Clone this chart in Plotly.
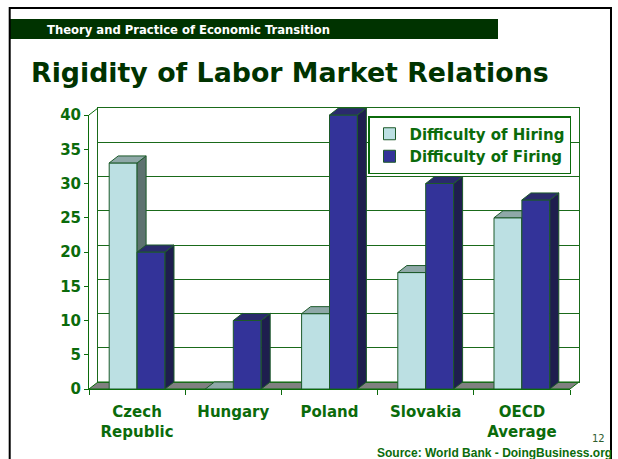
import plotly.graph_objects as go

# ---------------- data ----------------
categories = ["Czech<br>Republic", "Hungary", "Poland", "Slovakia", "OECD<br>Average"]
hiring = [33, 0, 11, 17, 25]
firing = [20, 10, 40, 30, 27.6]
series_names = ["Difficulty of Hiring", "Difficulty of Firing"]
y_ticks = [0, 5, 10, 15, 20, 25, 30, 35, 40]

# ---------------- layout constants (pixels) ----------------
W, H = 618, 459
FX0, FX1 = 89, 570      # front x-axis extent
FY0, FY1 = 389, 115     # front y=0 and y=40
DX, DY = 9, 7           # 3-D depth offset
YMAX = 40
BARGAP = 0.42

GREEN = "#0B6B0B"
GRID = "#1A6A1A"
DARK = "#003300"
FONT = "DejaVu Sans"

HIRE_FRONT, HIRE_SIDE, HIRE_TOP = "#BCE0E3", "#5E7270", "#8FA8A8"
FIRE_FRONT, FIRE_SIDE, FIRE_TOP = "#333399", "#1E1E4E", "#2A2A6C"


def fx(p):
    return p / W


def fy(p):
    return 1 - p / H


n = len(categories)
unit_x = (FX1 - FX0) / n
unit_y = (FY0 - FY1) / YMAX
dxu = DX / unit_x
dyu = DY / unit_y
bw = (1 - BARGAP) / 2
xs = list(range(n))

fig = go.Figure()

# back wall (gridlines) on x/y
fig.add_trace(go.Scatter(x=[0], y=[0], mode="markers", marker=dict(opacity=0),
                         showlegend=False, hoverinfo="skip", xaxis="x", yaxis="y"))
# front axes on x2/y2
fig.add_trace(go.Scatter(x=[0], y=[0], mode="markers", marker=dict(opacity=0),
                         showlegend=False, hoverinfo="skip", xaxis="x2", yaxis="y2"))


def faces(vals, left_off):
    sx, sy, tx, ty = [], [], [], []
    for i, v in zip(xs, vals):
        xl = i + left_off
        xr = xl + bw
        sx += [xr, xr + dxu, xr + dxu, xr, xr, None]
        sy += [0, dyu, v + dyu, v, 0, None]
        tx += [xl, xl + dxu, xr + dxu, xr, xl, None]
        ty += [v, v + dyu, v + dyu, v, v, None]
    return sx, sy, tx, ty


specs = [
    (hiring, series_names[0], -bw, HIRE_FRONT, HIRE_SIDE, HIRE_TOP, "x3", "y3"),
    (firing, series_names[1], 0.0, FIRE_FRONT, FIRE_SIDE, FIRE_TOP, "x4", "y4"),
]
for vals, name, off, cf, cs, ct, xa, ya in specs:
    fig.add_trace(go.Bar(x=xs, y=vals, width=bw, offset=off, name=name,
                         marker=dict(color=cf, line=dict(color="#1C5A2A", width=1)),
                         xaxis=xa, yaxis=ya, hoverinfo="skip"))
    sx, sy, tx, ty = faces(vals, off)
    fig.add_trace(go.Scatter(x=sx, y=sy, mode="lines", fill="toself", fillcolor=cs,
                             line=dict(color="#1C5A2A", width=1), showlegend=False,
                             hoverinfo="skip", xaxis=xa, yaxis=ya))
    fig.add_trace(go.Scatter(x=tx, y=ty, mode="lines", fill="toself", fillcolor=ct,
                             line=dict(color="#1C5A2A", width=1), showlegend=False,
                             hoverinfo="skip", xaxis=xa, yaxis=ya))

tickfont = dict(family=FONT, size=15, color=GREEN, weight="bold")

ext_x = [-0.5, -0.5 + (FX1 + DX - FX0) / unit_x]
ext_y = [0, (FY0 - FY1 + DY) / unit_y]
ext_dom_x = [fx(FX0), fx(FX1 + DX)]
ext_dom_y = [fy(FY0), fy(FY1 - DY)]

layout = dict(
    width=W, height=H,
    margin=dict(l=0, r=0, t=0, b=0, pad=0, autoexpand=False),
    paper_bgcolor="white", plot_bgcolor="rgba(0,0,0,0)",
    showlegend=True,
    xaxis=dict(domain=[fx(FX0 + DX), fx(FX1 + DX)], range=[-0.5, n - 0.5], anchor="y",
               showgrid=False, zeroline=False, showticklabels=False, ticks="",
               showline=True, mirror=True, linecolor=GRID, linewidth=1, automargin=False),
    yaxis=dict(domain=[fy(FY0 - DY), fy(FY1 - DY)], range=[0, YMAX], anchor="x",
               tickvals=y_ticks, showgrid=True, gridcolor=GRID, gridwidth=1,
               zeroline=False, showticklabels=False, ticks="", automargin=False,
               showline=True, mirror=True, linecolor=GRID, linewidth=1),
    xaxis2=dict(domain=[fx(FX0), fx(FX1)], range=[-0.5, n - 0.5], anchor="y2",
                tickvals=xs, ticktext=categories, ticks="", showgrid=False, zeroline=False,
                showline=True, linecolor=GREEN, linewidth=1, tickfont=tickfont,
                ticklabelstandoff=9, automargin=False,
                minor=dict(tickvals=[i - 0.5 for i in range(n + 1)], ticks="outside",
                           ticklen=5, tickcolor=GREEN, showgrid=False)),
    yaxis2=dict(domain=[fy(FY0), fy(FY1)], range=[0, YMAX], anchor="x2",
                tickvals=y_ticks, ticks="outside", ticklen=4, tickcolor=GREEN,
                showgrid=False, zeroline=False, showline=True, linecolor=GREEN,
                linewidth=1, tickfont=tickfont, automargin=False),
    xaxis3=dict(domain=ext_dom_x, range=ext_x, anchor="y3", visible=False),
    yaxis3=dict(domain=ext_dom_y, range=ext_y, anchor="x3", visible=False),
    xaxis4=dict(domain=ext_dom_x, range=ext_x, anchor="y4", visible=False),
    yaxis4=dict(domain=ext_dom_y, range=ext_y, anchor="x4", visible=False),
    legend=dict(x=fx(368), y=fy(116), xanchor="left", yanchor="top",
                bgcolor="white", bordercolor=GREEN, borderwidth=1.5,
                font=dict(family=FONT, size=15, color=GREEN, weight="bold"),
                tracegroupgap=0, itemclick=False),
)
fig.update_layout(**layout)


def path(points, close=False):
    s = "M " + " L ".join(f"{fx(a):.5f},{fy(b):.5f}" for a, b in points)
    return s + (" Z" if close else "")


shapes = [
    # floor
    dict(type="path", xref="paper", yref="paper", layer="below",
         path=path([(FX0, FY0), (FX1, FY0), (FX1 + DX, FY0 - DY), (FX0 + DX, FY0 - DY)], True),
         fillcolor="#808080", line=dict(color=GREEN, width=1)),
    # left wall top diagonal
    dict(type="path", xref="paper", yref="paper", layer="above",
         path=path([(FX0, FY1), (FX0 + DX, FY1 - DY)]), line=dict(color=GREEN, width=1)),
    # header bar
    dict(type="rect", xref="paper", yref="paper", x0=fx(10), x1=fx(498), y0=fy(39), y1=fy(19),
         fillcolor=DARK, line=dict(width=0), layer="below"),
    # slide border
    dict(type="path", xref="paper", yref="paper",
         path=path([(9.7, 470), (9.7, 8), (611, 8), (611, 470)]),
         line=dict(color="black", width=2)),
]
fig.update_layout(shapes=shapes)

annotations = [
    dict(text="Theory and Practice of Economic Transition", x=fx(45), y=fy(29.5),
         xanchor="left", yanchor="middle",
         font=dict(family=FONT, size=11.6, color="white", weight="bold")),
    dict(text="Rigidity of Labor Market Relations", x=fx(29), y=fy(72),
         xanchor="left", yanchor="middle",
         font=dict(family=FONT, size=26.8, color=DARK, weight="bold")),
    dict(text="12", x=fx(598), y=fy(438.5), xanchor="center", yanchor="middle",
         font=dict(family=FONT, size=10, color="#2E5E2E")),
    dict(text="Source: World Bank - DoingBusiness.org", x=fx(614), y=fy(453),
         xanchor="right", yanchor="middle",
         font=dict(family="Liberation Sans", size=12, color=GREEN, weight="bold")),
]
for a in annotations:
    a.update(xref="paper", yref="paper", showarrow=False)
fig.update_layout(annotations=annotations)

fig.write_html("out.html", config={"displayModeBar": False},
               post_script="document.body.style.margin='0';")
